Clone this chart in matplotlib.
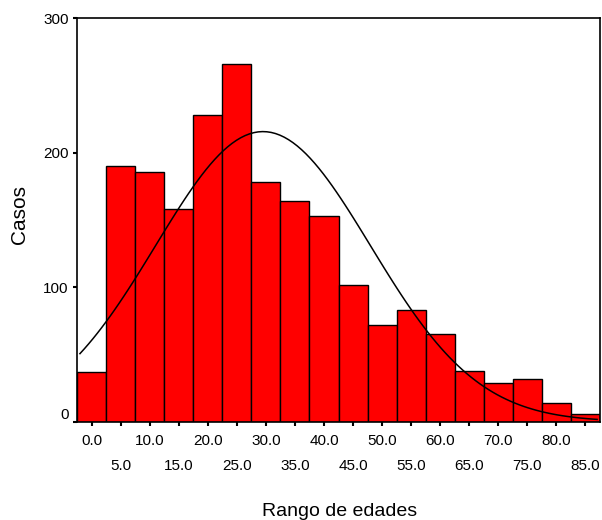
import numpy as np
import matplotlib
matplotlib.use("Agg")
import matplotlib.pyplot as plt

plt.rcParams['font.family'] = ['Liberation Sans', 'DejaVu Sans']

# Data
bin_centers = [0, 5, 10, 15, 20, 25, 30, 35, 40, 45, 50, 55, 60, 65, 70, 75, 80, 85]
counts = [37, 190, 186, 158, 228, 266, 178, 164, 153, 102, 72, 83, 65, 38, 29, 32, 14, 6]
bin_width = 5.0
fit_mean = 29.5
fit_sd = 18.5
y_ticks = [0, 100, 200, 300]
x_label = "Rango de edades"
y_label = "Casos"

fig = plt.figure(figsize=(6.02, 5.20), dpi=100)
ax = fig.add_axes([0.128, 0.189, 0.8687, 0.7758])

ax.bar(bin_centers, counts, width=bin_width, color='#FF0000',
       edgecolor='black', linewidth=1.0, align='center', zorder=2)

# Normal curve fitted
n_total = sum(counts)
xs = np.linspace(-2.0, 87.0, 120)
ys = n_total * bin_width / (fit_sd * np.sqrt(2 * np.pi)) * np.exp(-0.5 * ((xs - fit_mean) / fit_sd) ** 2)
ax.plot(xs, ys, color='black', linewidth=1.1, zorder=3)

ax.set_xlim(-2.5, 87.5)
ax.set_ylim(0, 300)

major = bin_centers[0::2]
minor = bin_centers[1::2]
ax.set_xticks(major)
ax.set_xticklabels([f"{v:.1f}" for v in major])
ax.set_xticks(minor, minor=True)
ax.set_xticklabels([f"{v:.1f}" for v in minor], minor=True)
ax.tick_params(axis='x', which='major', length=3, width=1.5, pad=5.5, labelsize=11)
ax.tick_params(axis='x', which='minor', length=3, width=1.5, pad=23.5, labelsize=11)

ax.set_yticks(y_ticks)
ax.set_yticklabels([str(v) for v in y_ticks])
ax.tick_params(axis='y', length=3, width=1.5, pad=3, labelsize=11)
ax.get_yticklabels()[0].set_va('bottom')

for s in ax.spines.values():
    s.set_linewidth(1.2)
    s.set_color('black')

fig.text(340 / 602, 1 - 511 / 520, x_label, ha='center', va='center', fontsize=14)
fig.text(20 / 602, 1 - 214 / 520, y_label, ha='center', va='center', rotation=90, fontsize=15)

fig.savefig("out.png", dpi=100)
